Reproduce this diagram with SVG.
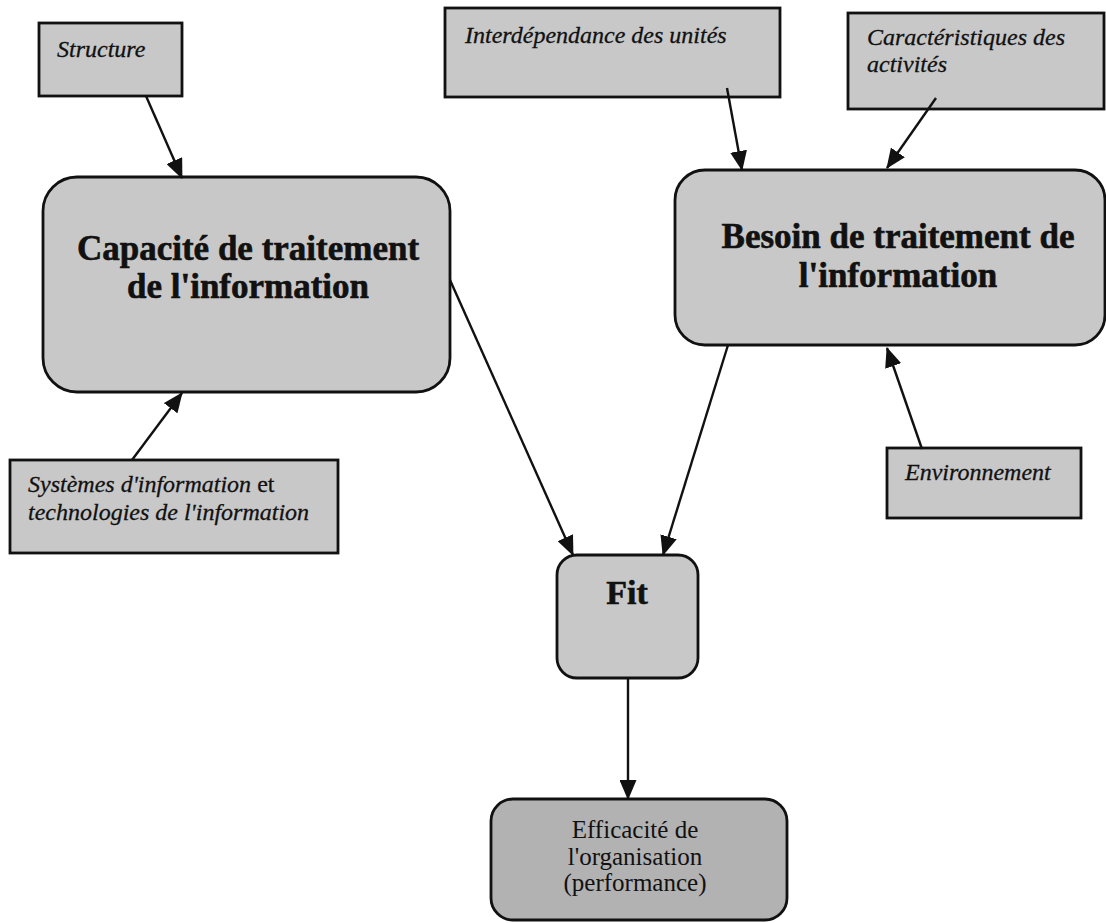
<svg xmlns="http://www.w3.org/2000/svg" width="1106" height="923" viewBox="0 0 1106 923">
<style>
  .box { fill: #c8c8c8; stroke: #111; stroke-width: 2.8; }
  .dark { fill: #b2b2b2; }
  .lbl { font-family: "Liberation Serif", "Times New Roman", serif; font-style: italic; font-size: 24px; fill: #111; stroke: #111; stroke-width: 0.3; }
  .up { font-style: normal; }
  .big { font-family: "Liberation Serif", "Times New Roman", serif; font-weight: bold; font-size: 35px; fill: #111; text-anchor: middle; stroke: #111; stroke-width: 0.6; }
  .mid { font-family: "Liberation Serif", "Times New Roman", serif; font-size: 25px; fill: #111; text-anchor: middle; }
  .conn line { stroke: #111; stroke-width: 2.4; fill: none; marker-end: url(#arr); }
</style>
<defs>
  <marker id="arr" markerUnits="userSpaceOnUse" markerWidth="20" markerHeight="17" refX="19" refY="8.5" orient="auto">
    <path d="M0,0 L20,8.5 L0,17 z" fill="#111"/>
  </marker>
</defs>
<rect width="1106" height="923" fill="#fff"/>

<g id="structure">
  <rect class="box" x="39" y="23" width="143" height="73"/>
  <text class="lbl" x="57" y="57">Structure</text>
</g>

<g id="interdependance">
  <rect class="box" x="445" y="8" width="335" height="89"/>
  <text class="lbl" x="465" y="43">Interdépendance des unités</text>
</g>

<g id="caracteristiques">
  <rect class="box" x="848" y="13" width="256" height="96"/>
  <text class="lbl" x="867" y="45">Caractéristiques des</text>
  <text class="lbl" x="867" y="72">activités</text>
</g>

<g id="capacite">
  <rect class="box" x="43" y="177" width="407" height="215" rx="34" ry="34"/>
  <text class="big" x="248" y="260">Capacité de traitement</text>
  <text class="big" x="248" y="298">de l'information</text>
</g>

<g id="besoin">
  <rect class="box" x="675" y="170" width="430" height="175" rx="30" ry="30"/>
  <text class="big" x="898" y="248">Besoin de traitement de</text>
  <text class="big" x="898" y="287">l'information</text>
</g>

<g id="systemes">
  <rect class="box" x="10" y="460" width="328" height="93"/>
  <text class="lbl" x="28" y="492">Systèmes d'information <tspan class="up">et</tspan></text>
  <text class="lbl" x="28" y="520">technologies de l'information</text>
</g>

<g id="environnement">
  <rect class="box" x="887" y="448" width="194" height="70"/>
  <text class="lbl" x="905" y="480">Environnement</text>
</g>

<g id="fit">
  <rect class="box" x="557" y="555" width="141" height="123" rx="20" ry="20"/>
  <text class="big" x="627" y="604" style="font-size:34px">Fit</text>
</g>

<g id="efficacite">
  <rect class="box dark" x="491" y="799" width="296" height="121" rx="22" ry="22"/>
  <text class="mid" x="635" y="838">Efficacité de</text>
  <text class="mid" x="635" y="865">l'organisation</text>
  <text class="mid" x="635" y="891">(performance)</text>
</g>

<g id="connectors" class="conn">
  <line x1="146" y1="96" x2="182" y2="178"/>
  <line x1="132" y1="460" x2="182" y2="393"/>
  <line x1="450" y1="280" x2="573" y2="555"/>
  <line x1="727" y1="88" x2="742" y2="170"/>
  <line x1="936" y1="98" x2="887" y2="168"/>
  <line x1="728" y1="345" x2="663" y2="555"/>
  <line x1="922" y1="449" x2="887" y2="348"/>
  <line x1="628" y1="678" x2="628" y2="799"/>
</g>
</svg>
